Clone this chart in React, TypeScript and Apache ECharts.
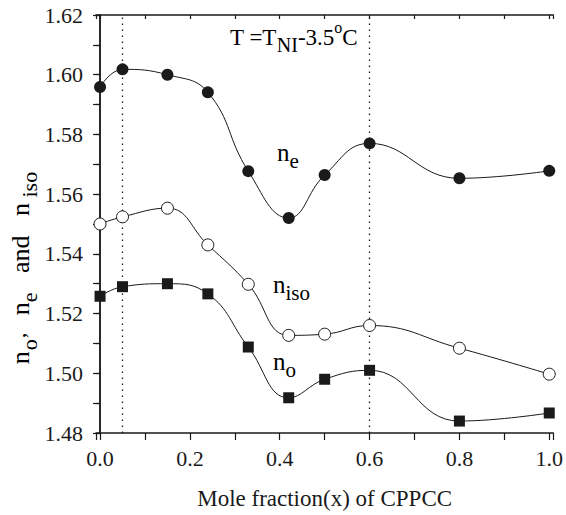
import React, { useEffect, useRef } from "react";
import * as echarts from "echarts";

const xValues = [0, 0.05, 0.15, 0.24, 0.33, 0.42, 0.5, 0.6, 0.8, 1.0];
const neValues = [1.5959, 1.6018, 1.6, 1.5941, 1.5677, 1.552, 1.5664, 1.577, 1.5653, 1.5678];
const nisoValues = [1.55, 1.5524, 1.5553, 1.543, 1.5298, 1.5127, 1.5131, 1.516, 1.5084, 1.4997];
const noValues = [1.5258, 1.529, 1.53, 1.5266, 1.5088, 1.4918, 1.498, 1.501, 1.484, 1.4867];
const dottedLinesX = [0.05, 0.6];
const yMin = 1.48;
const yMax = 1.62;

const FONT = "Liberation Serif";
const INK = "#1a1a1a";

const rich = {
  m: { fontSize: 25, lineHeight: 38, verticalAlign: "middle", fontFamily: FONT, color: INK },
  s: { fontSize: 21, lineHeight: 26, verticalAlign: "bottom", fontFamily: FONT, color: INK },
  y: { fontSize: 26, lineHeight: 40, verticalAlign: "middle", fontFamily: FONT, color: INK },
  ys: { fontSize: 22, lineHeight: 28, verticalAlign: "bottom", fontFamily: FONT, color: INK },
  p: { fontSize: 16, lineHeight: 20, verticalAlign: "top", fontFamily: FONT, color: INK },
  a: { fontSize: 23, lineHeight: 36, verticalAlign: "middle", fontFamily: FONT, color: INK },
  as: { fontSize: 20, lineHeight: 27, verticalAlign: "bottom", fontFamily: FONT, color: INK },
};

const pair = (v: number, v2: number) => [v, v2];

export default function App() {
  const ref = useRef<HTMLDivElement>(null);
  useEffect(() => {
    if (!ref.current) return;
    const chart = echarts.init(ref.current, null, { renderer: "svg" });
    const xLabel = (v: number) => {
      const k = Math.round(v * 10);
      return Math.abs(v * 10 - k) < 1e-6 && k % 2 === 0 && k >= 0 && k <= 10 ? (k / 10).toFixed(1) : "";
    };
    const yLabel = (v: number) => {
      const k = Math.round(v * 100);
      return Math.abs(v * 100 - k) < 1e-6 && k % 2 === 0 ? (k / 100).toFixed(2) : "";
    };
    const axisLine = { show: true, lineStyle: { color: INK, width: 1.5 } };
    const seriesCommon = {
      type: "line",
      smooth: 0.45,
      lineStyle: { color: INK, width: 1 },
      showAllSymbol: true,
      z: 3,
    };
    chart.setOption({
      animation: false,
      backgroundColor: "#ffffff",
      grid: { left: 96, right: 9, top: 15, bottom: 78 },
      xAxis: [
        {
          type: "value",
          position: "bottom",
          min: -0.009,
          max: 1.009,
          splitNumber: 10,
          axisLine,
          axisTick: { show: true, inside: false, length: 7, lineStyle: { color: INK, width: 1.2 } },
          axisLabel: { formatter: xLabel, fontFamily: FONT, fontSize: 22, color: INK, margin: 14 },
          splitLine: { show: false },
          name: "Mole fraction(x) of CPPCC",
          nameLocation: "middle",
          nameGap: 54,
          nameTextStyle: { fontFamily: FONT, fontSize: 23, color: INK },
        },
        {
          type: "value",
          position: "top",
          min: -0.009,
          max: 1.009,
          splitNumber: 10,
          axisLine,
          axisTick: { show: true, inside: true, length: 4, lineStyle: { color: INK, width: 1.2 } },
          axisLabel: { show: false },
          splitLine: { show: false },
        },
      ],
      yAxis: [
        {
          type: "value",
          position: "left",
          min: yMin,
          max: yMax,
          interval: 0.01,
          axisLine,
          axisTick: { show: true, inside: false, length: 7, lineStyle: { color: INK, width: 1.2 } },
          axisLabel: { formatter: yLabel, fontFamily: FONT, fontSize: 22, color: INK, margin: 13 },
          splitLine: { show: false },
        },
        {
          type: "value",
          position: "right",
          min: yMin,
          max: yMax,
          interval: 0.01,
          axisLine,
          axisTick: { show: true, inside: true, length: 4, lineStyle: { color: INK, width: 1.2 } },
          axisLabel: { show: false },
          splitLine: { show: false },
        },
      ],
      series: [
        {
          ...seriesCommon,
          name: "ne",
          data: xValues.map((x, i) => pair(x, neValues[i])),
          symbol: "circle",
          symbolSize: 12,
          itemStyle: { color: INK },
          markLine: {
            silent: true,
            symbol: ["none", "none"],
            label: { show: false },
            lineStyle: { color: INK, width: 1.3, type: [1.6, 4.4] },
            data: dottedLinesX.map((x) => ({ xAxis: x })),
            z: 1,
          },
        },
        {
          ...seriesCommon,
          name: "niso",
          data: xValues.map((x, i) => pair(x, nisoValues[i])),
          symbol: "circle",
          symbolSize: 12,
          itemStyle: { color: "#ffffff", borderColor: INK, borderWidth: 1 },
        },
        {
          ...seriesCommon,
          name: "no",
          data: xValues.map((x, i) => pair(x, noValues[i])),
          symbol: "rect",
          symbolSize: 11,
          itemStyle: { color: INK },
        },
      ],
      graphic: [
        {
          type: "text",
          x: 20,
          y: 268,
          rotation: Math.PI / 2,
          style: {
            text: "{y|n}{ys|o’  }{y| n}{ys|e}{y|   and   n}{ys| iso}",
            rich,
            align: "center",
            verticalAlign: "middle",
          },
        },
        {
          type: "text",
          x: 230,
          y: 37,
          style: {
            text: "{a|T =T}{as|NI}{a|-3.5}{p|o}{a|C}",
            rich,
            align: "left",
            verticalAlign: "middle",
          },
        },
        {
          type: "text",
          x: 277,
          y: 152,
          style: { text: "{m|n}{s|e}", rich, align: "left", verticalAlign: "middle" },
        },
        {
          type: "text",
          x: 273,
          y: 284,
          style: { text: "{m|n}{s|iso}", rich, align: "left", verticalAlign: "middle" },
        },
        {
          type: "text",
          x: 273,
          y: 361,
          style: { text: "{m|n}{s|o}", rich, align: "left", verticalAlign: "middle" },
        },
      ],
    });
    return () => chart.dispose();
  }, []);
  return (
    <div
      ref={ref}
      style={{ position: "fixed", left: 0, top: 0, width: 566, height: 515, background: "#fff" }}
    />
  );
}
